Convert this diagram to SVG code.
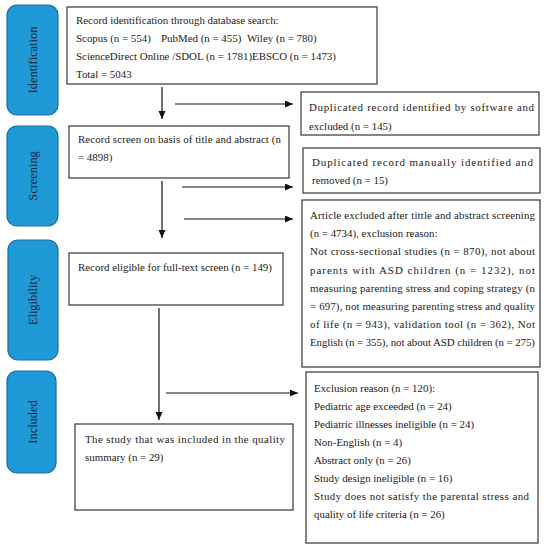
<svg xmlns="http://www.w3.org/2000/svg" width="549" height="550" viewBox="0 0 549 550">
<defs>
<marker id="ah" markerUnits="userSpaceOnUse" markerWidth="9" markerHeight="8" refX="8" refY="3.5" orient="auto">
<path d="M0,0 L8,3.5 L0,7 z" fill="#111"/>
</marker>
<style>
.side rect{fill:#1f9ad6;stroke:#1a6e9f;stroke-width:1.2}
.side text{font-family:"Liberation Serif",serif;font-size:12.4px;fill:#1a2340;text-anchor:middle}
.box rect{fill:#fff;stroke:#444;stroke-width:1.3}
.box text{font-family:"Liberation Serif",serif;font-size:10.9px;fill:#222}
.conn line{stroke:#111;stroke-width:1.2;marker-end:url(#ah)}
</style>
</defs>
<rect width="549" height="550" fill="#fff"/>

<g id="side-identification" class="side"><rect x="7" y="5" width="51" height="110" rx="10"/><text transform="translate(37,60) rotate(-90)">Identification</text></g>
<g id="side-screening" class="side"><rect x="7" y="126" width="51" height="100" rx="10"/><text transform="translate(37,176) rotate(-90)">Screening</text></g>
<g id="side-eligibility" class="side"><rect x="8" y="240" width="50" height="120" rx="10"/><text transform="translate(37,300) rotate(-90)">Eligibility</text></g>
<g id="side-included" class="side"><rect x="7" y="371" width="49" height="102" rx="10"/><text transform="translate(37,422) rotate(-90)">Included</text></g>

<g id="box-identification" class="box"><rect x="67" y="7" width="310" height="77"/>
<text x="76" y="24">Record identification through database search:</text>
<text x="76" y="42">Scopus (n = 554)</text>
<text x="161" y="42">PubMed (n = 455)</text>
<text x="247" y="42">Wiley (n = 780)</text>
<text x="76" y="60">ScienceDirect Online /SDOL (n = 1781)EBSCO (n = 1473)</text>
<text x="76" y="78">Total = 5043</text></g>

<g id="box-dup-software" class="box"><rect x="301" y="92" width="238" height="43"/>
<text x="309" y="111" textLength="225" lengthAdjust="spacing">Duplicated record identified by software and</text>
<text x="309" y="130">excluded (n = 145)</text></g>

<g id="box-screening" class="box"><rect x="69" y="126" width="220" height="52"/>
<text x="78" y="143" textLength="203" lengthAdjust="spacing">Record screen on basis of title and abstract (n</text>
<text x="78" y="161">= 4898)</text></g>

<g id="box-dup-manual" class="box"><rect x="303" y="148" width="237" height="45"/>
<text x="312" y="166" textLength="221" lengthAdjust="spacing">Duplicated record manually identified and</text>
<text x="312" y="184">removed (n = 15)</text></g>

<g id="box-article-excluded" class="box"><rect x="302" y="200" width="238" height="167"/>
<text x="310" y="219" textLength="225" lengthAdjust="spacing">Article excluded after tittle and abstract screening</text>
<text x="310" y="237">(n = 4734), exclusion reason:</text>
<text x="310" y="255" textLength="225" lengthAdjust="spacing">Not cross-sectional studies (n = 870), not about</text>
<text x="310" y="274" textLength="225" lengthAdjust="spacing">parents with ASD children (n = 1232), not</text>
<text x="310" y="292" textLength="225" lengthAdjust="spacing">measuring parenting stress and coping strategy (n</text>
<text x="310" y="310" textLength="225" lengthAdjust="spacing">= 697), not measuring parenting stress and quality</text>
<text x="310" y="328" textLength="225" lengthAdjust="spacing">of life (n = 943), validation tool (n = 362), Not</text>
<text x="310" y="346" textLength="225" lengthAdjust="spacing">English (n = 355), not about ASD children (n = 275)</text></g>

<g id="box-eligible" class="box"><rect x="69" y="253" width="214" height="52"/>
<text x="78" y="271">Record eligible for full-text screen (n = 149)</text></g>

<g id="box-exclusion" class="box"><rect x="306" y="372" width="232" height="171"/>
<text x="314" y="392">Exclusion reason (n = 120):</text>
<text x="314" y="410">Pediatric age exceeded (n = 24)</text>
<text x="314" y="428">Pediatric illnesses ineligible (n = 24)</text>
<text x="314" y="446">Non-English (n = 4)</text>
<text x="314" y="464">Abstract only (n = 26)</text>
<text x="314" y="482">Study design ineligible (n = 16)</text>
<text x="314" y="500" textLength="215" lengthAdjust="spacing">Study does not satisfy the parental stress and</text>
<text x="314" y="518">quality of life criteria (n = 26)</text></g>

<g id="box-included" class="box"><rect x="75" y="424" width="218" height="86"/>
<text x="85" y="443" textLength="200" lengthAdjust="spacing">The study that was included in the quality</text>
<text x="85" y="461">summary (n = 29)</text></g>

<g id="connectors" class="conn">
<line x1="162" y1="87" x2="162" y2="119"/>
<line x1="175" y1="104" x2="293" y2="104"/>
<line x1="162" y1="181" x2="162" y2="238"/>
<line x1="182" y1="187" x2="293" y2="187"/>
<line x1="184" y1="219" x2="293" y2="219"/>
<line x1="159" y1="308" x2="159" y2="420"/>
<line x1="166" y1="393" x2="298" y2="393"/>
</g>
</svg>
